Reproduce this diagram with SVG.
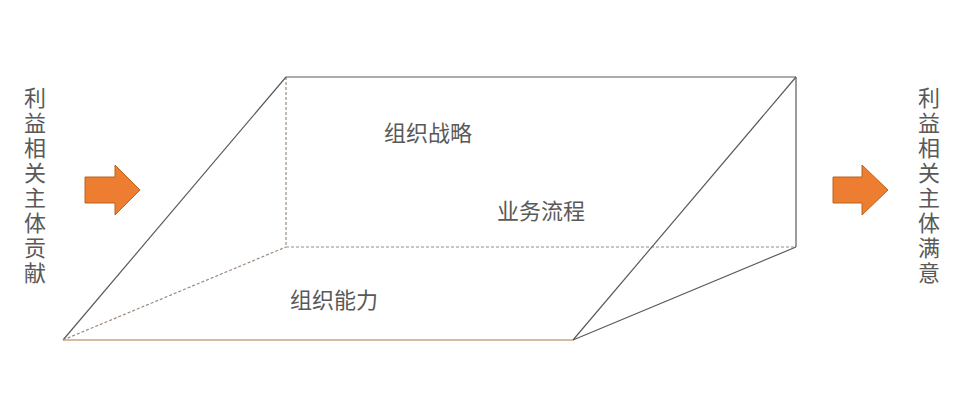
<svg xmlns="http://www.w3.org/2000/svg" width="955" height="401" viewBox="0 0 955 401">
<style>
.t{font-family:"Noto Sans CJK SC","Noto Sans",sans-serif;font-size:22px;fill:#595959}
.v{font-family:"Noto Sans CJK SC","Noto Sans",sans-serif;font-size:22px;fill:#595959;text-anchor:middle}
.solid{stroke:#5a5a5a;stroke-width:1.2;fill:none}
.dash{stroke:#9c8a7c;stroke-width:1.2;stroke-dasharray:3 2;fill:none}
.arrow{fill:#ED7D31;stroke:#B9641F;stroke-width:1}
</style>
<rect width="955" height="401" fill="#ffffff"/>
<g id="connectors">
<line class="dash" x1="286" y1="77" x2="286" y2="247"/>
<line class="dash" x1="286" y1="247" x2="796" y2="247"/>
<line class="dash" x1="63" y1="340" x2="286" y2="247"/>
<line class="solid" x1="63" y1="340" x2="286" y2="77"/>
<line class="solid" x1="286" y1="77" x2="796" y2="77"/>
<line class="solid" x1="796" y1="77" x2="796" y2="247"/>
<line class="solid" x1="796" y1="77" x2="573" y2="340"/>
<line class="solid" x1="573" y1="340" x2="796" y2="247"/>
<line x1="63" y1="340" x2="573" y2="340" stroke="#c9a582" stroke-width="1.5"/>
</g>
<g id="left-label">
<text class="v" x="35"><tspan x="35" y="106">利</tspan><tspan x="35" y="131">益</tspan><tspan x="35" y="156">相</tspan><tspan x="35" y="181">关</tspan><tspan x="35" y="206">主</tspan><tspan x="35" y="231">体</tspan><tspan x="35" y="256">贡</tspan><tspan x="35" y="281">献</tspan></text>
</g>
<g id="left-arrow">
<polygon class="arrow" points="85,177 115,177 115,165 140,190 115,215 115,203 85,203"/>
</g>
<g id="strategy"><text class="t" x="384" y="141">组织战略</text></g>
<g id="process"><text class="t" x="497" y="219">业务流程</text></g>
<g id="capability"><text class="t" x="290" y="308">组织能力</text></g>
<g id="right-arrow">
<polygon class="arrow" points="833,177 862,177 862,165 888,190 862,215 862,203 833,203"/>
</g>
<g id="right-label">
<text class="v" x="929"><tspan x="929" y="106">利</tspan><tspan x="929" y="131">益</tspan><tspan x="929" y="156">相</tspan><tspan x="929" y="181">关</tspan><tspan x="929" y="206">主</tspan><tspan x="929" y="231">体</tspan><tspan x="929" y="256">满</tspan><tspan x="929" y="281">意</tspan></text>
</g>
</svg>
